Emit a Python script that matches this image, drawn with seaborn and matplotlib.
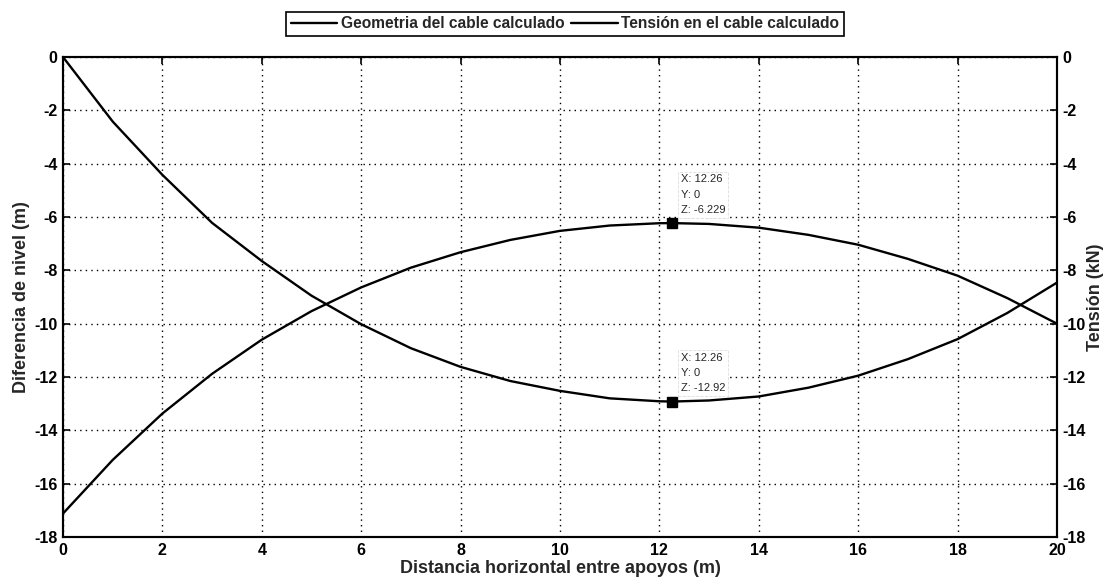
import matplotlib
matplotlib.use("Agg")
import matplotlib.pyplot as plt
import seaborn as sns
import pandas as pd

# Horizontal distance between supports (m)
distancia = [0, 1, 2, 3, 4, 5, 6, 7, 8, 9, 10, 11, 12, 12.26,
             13, 14, 15, 16, 17, 18, 19, 20]
# Cable geometry: level difference (m)
geometria = [0.0, -2.42, -4.42, -6.22, -7.65, -8.95, -10.02, -10.92, -11.62,
             -12.15, -12.52, -12.80, -12.91, -12.92,
             -12.88, -12.73, -12.40, -11.95, -11.33, -10.58, -9.60, -8.46]
# Cable tension (kN)
tension = [-17.12, -15.11, -13.37, -11.88, -10.60, -9.53, -8.64, -7.90, -7.32,
           -6.86, -6.52, -6.32, -6.233, -6.229,
           -6.26, -6.40, -6.67, -7.04, -7.57, -8.20, -9.04, -10.00]

x_pico = 12.26
z_tension = -6.229
z_geometria = -12.92

etiqueta_geo = "Geometria del cable calculado"
etiqueta_ten = "Tensión en el cable calculado"

sns.set_theme(style="white")
plt.rcParams["font.family"] = ["Liberation Sans", "DejaVu Sans"]
plt.rcParams["font.weight"] = "bold"
plt.rcParams["axes.unicode_minus"] = False

df = pd.DataFrame({"x": distancia, "geo": geometria, "ten": tension})

fig = plt.figure(figsize=(11.07, 5.78), dpi=100)
ax = fig.add_axes([0.0569, 0.0709, 0.8979, 0.8305])
ax2 = ax.twinx()

sns.lineplot(data=df, x="x", y="geo", ax=ax, color="black", linewidth=1.7,
             label=etiqueta_geo, legend=False)
sns.lineplot(data=df, x="x", y="ten", ax=ax2, color="black", linewidth=1.7,
             label=etiqueta_ten, legend=False)

for a in (ax, ax2):
    a.set_xlim(0, 20)
    a.set_ylim(-18, 0)
    a.set_yticks(range(-18, 1, 2))
    for s in a.spines.values():
        s.set_color("black")
        s.set_linewidth(1.5)
ax.set_xticks(range(0, 21, 2))

ax.grid(True, color="black", linestyle=(0, (1, 3)), linewidth=1.0)
ax.tick_params(direction="in", length=5, width=1.2, top=True, right=False,
               labelsize=11.5, colors="black", pad=4)
ax2.tick_params(direction="in", length=5, width=1.2, labelsize=11.5,
                colors="black", pad=4)
for lab in ax.get_xticklabels() + ax.get_yticklabels() + ax2.get_yticklabels():
    lab.set_fontweight("bold")

ax.set_xlabel("Distancia horizontal entre apoyos (m)", fontsize=13,
              fontweight="bold", labelpad=2)
ax.set_ylabel("Diferencia de nivel (m)", fontsize=13, fontweight="bold",
              labelpad=3)
ax2.set_ylabel("Tensión (kN)", fontsize=13, fontweight="bold", labelpad=1)

# Data tips at the extreme points
ax2.plot([x_pico], [z_tension], marker="s", color="black", markersize=7,
         linestyle="none", zorder=5)
ax.plot([x_pico], [z_geometria], marker="s", color="black", markersize=7,
        linestyle="none", zorder=5)
caja = dict(boxstyle="square,pad=0.25", facecolor="white",
            edgecolor="#dddddd", linewidth=0.6, linestyle="--")
ax2.annotate(f"X: {x_pico}\nY: 0\nZ: {z_tension}", xy=(x_pico, z_tension),
             xytext=(6, 6), textcoords="offset points", ha="left", va="bottom",
             fontsize=8, fontweight="normal", linespacing=1.65, bbox=caja,
             zorder=6)
ax.annotate(f"X: {x_pico}\nY: 0\nZ: {z_geometria}", xy=(x_pico, z_geometria),
            xytext=(6, 6), textcoords="offset points", ha="left", va="bottom",
            fontsize=8, fontweight="normal", linespacing=1.65, bbox=caja,
            zorder=6)

h1, l1 = ax.get_legend_handles_labels()
h2, l2 = ax2.get_legend_handles_labels()
leg = fig.legend(h1[:1] + h2[:1], [etiqueta_geo, etiqueta_ten],
                 loc="center", bbox_to_anchor=(565 / 1107, 1 - 24 / 578),
                 ncol=2, frameon=True, fancybox=False, edgecolor="black",
                 framealpha=1, fontsize=11.2, handlelength=3.0,
                 handletextpad=0.25, columnspacing=0.4, borderpad=0.3)
leg.get_frame().set_linewidth(1.2)
for t in leg.get_texts():
    t.set_fontweight("bold")

fig.savefig("out.png", dpi=100)
